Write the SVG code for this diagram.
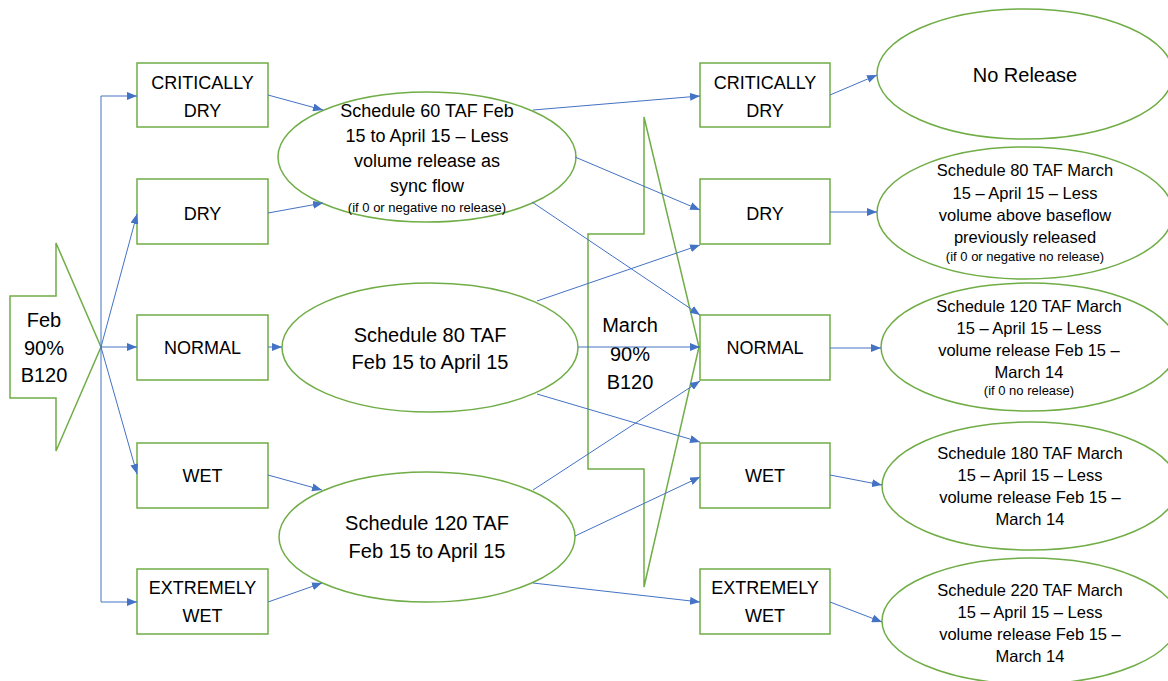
<svg xmlns="http://www.w3.org/2000/svg" width="1168" height="681" viewBox="0 0 1168 681">
<style>
.shape{fill:#ffffff;stroke:#70AD47;stroke-width:1.5}
.conn{fill:none;stroke:#4472C4;stroke-width:1}
text{font-family:"Liberation Sans",Arial,sans-serif;fill:#000000;text-anchor:middle}
.t18{font-size:18px}
.t20{font-size:20px}
.t16{font-size:16.5px}
.t13{font-size:13px}
</style>
<defs>
<marker id="arr" viewBox="0 0 10 8" refX="10" refY="4" markerWidth="10" markerHeight="8" markerUnits="userSpaceOnUse" orient="auto">
<path d="M0,0 L10,4 L0,8 z" fill="#4472C4"/>
</marker>
</defs>
<rect width="1168" height="681" fill="#ffffff"/>

<g id="feb">
<polygon class="shape" points="10,296 56,296 56,243 101,347 56,451 56,398 10,398"/>
<text class="t20" x="44" y="327">Feb</text>
<text class="t20" x="44" y="355">90%</text>
<text class="t20" x="44" y="382">B120</text>
</g>

<g id="march">
<polygon class="shape" points="588,234 644,234 644,117 699,347 644,587 644,469 588,469"/>
<text class="t20" x="630" y="332">March</text>
<text class="t20" x="630" y="361">90%</text>
<text class="t20" x="630" y="389">B120</text>
</g>

<g id="left-critically-dry">
<rect class="shape" x="137" y="63" width="131" height="64"/>
<text class="t18" x="202.5" y="88.5">CRITICALLY</text>
<text class="t18" x="202.5" y="116.5">DRY</text>
</g>
<g id="left-dry">
<rect class="shape" x="137" y="179" width="131" height="65"/>
<text class="t18" x="202.5" y="219.5">DRY</text>
</g>
<g id="left-normal">
<rect class="shape" x="137" y="315" width="131" height="65"/>
<text class="t18" x="202.5" y="353.5">NORMAL</text>
</g>
<g id="left-wet">
<rect class="shape" x="137" y="443" width="131" height="65"/>
<text class="t18" x="202.5" y="481.5">WET</text>
</g>
<g id="left-extremely-wet">
<rect class="shape" x="137" y="569" width="131" height="65"/>
<text class="t18" x="202.5" y="593.5">EXTREMELY</text>
<text class="t18" x="202.5" y="621.5">WET</text>
</g>

<g id="sched60">
<ellipse class="shape" cx="427" cy="157" rx="149" ry="65"/>
<text class="t18" x="427" y="117">Schedule 60 TAF Feb</text>
<text class="t18" x="427" y="142">15 to April 15 – Less</text>
<text class="t18" x="427" y="167">volume release as</text>
<text class="t18" x="427" y="192">sync flow</text>
<text class="t13" x="427" y="211.5">(if 0 or negative no release)</text>
</g>
<g id="sched80">
<ellipse class="shape" cx="430" cy="347.5" rx="148" ry="64.5"/>
<text class="t20" x="430" y="342">Schedule 80 TAF</text>
<text class="t20" x="430" y="369">Feb 15 to April 15</text>
</g>
<g id="sched120">
<ellipse class="shape" cx="427" cy="537" rx="148" ry="65"/>
<text class="t20" x="427" y="530">Schedule 120 TAF</text>
<text class="t20" x="427" y="558">Feb 15 to April 15</text>
</g>

<g id="right-critically-dry">
<rect class="shape" x="700" y="63" width="130" height="64"/>
<text class="t18" x="765" y="88.5">CRITICALLY</text>
<text class="t18" x="765" y="116.5">DRY</text>
</g>
<g id="right-dry">
<rect class="shape" x="700" y="179" width="130" height="65"/>
<text class="t18" x="765" y="219.5">DRY</text>
</g>
<g id="right-normal">
<rect class="shape" x="700" y="315" width="130" height="65"/>
<text class="t18" x="765" y="353.5">NORMAL</text>
</g>
<g id="right-wet">
<rect class="shape" x="700" y="443" width="130" height="65"/>
<text class="t18" x="765" y="481.5">WET</text>
</g>
<g id="right-extremely-wet">
<rect class="shape" x="700" y="569" width="130" height="65"/>
<text class="t18" x="765" y="593.5">EXTREMELY</text>
<text class="t18" x="765" y="621.5">WET</text>
</g>

<g id="no-release">
<ellipse class="shape" cx="1025" cy="74" rx="148" ry="65"/>
<text class="t20" x="1025" y="82">No Release</text>
</g>
<g id="march80">
<ellipse class="shape" cx="1025" cy="213" rx="148" ry="66"/>
<text class="t16" x="1025" y="176">Schedule 80 TAF March</text>
<text class="t16" x="1025" y="198.5">15 – April 15 – Less</text>
<text class="t16" x="1025" y="221">volume above baseflow</text>
<text class="t16" x="1025" y="243">previously released</text>
<text class="t13" x="1025" y="260.5">(if 0 or negative no release)</text>
</g>
<g id="march120">
<ellipse class="shape" cx="1029" cy="347" rx="148" ry="64"/>
<text class="t16" x="1029" y="312">Schedule 120 TAF March</text>
<text class="t16" x="1029" y="334">15 – April 15 – Less</text>
<text class="t16" x="1029" y="356">volume release Feb 15 –</text>
<text class="t16" x="1029" y="378">March 14</text>
<text class="t13" x="1029" y="394.5">(if 0 no release)</text>
</g>
<g id="march180">
<ellipse class="shape" cx="1030" cy="486" rx="148" ry="64"/>
<text class="t16" x="1030" y="459">Schedule 180 TAF March</text>
<text class="t16" x="1030" y="481">15 – April 15 – Less</text>
<text class="t16" x="1030" y="503">volume release Feb 15 –</text>
<text class="t16" x="1030" y="525">March 14</text>
</g>
<g id="march220">
<ellipse class="shape" cx="1030" cy="621" rx="148" ry="63"/>
<text class="t16" x="1030" y="596">Schedule 220 TAF March</text>
<text class="t16" x="1030" y="618">15 – April 15 – Less</text>
<text class="t16" x="1030" y="640">volume release Feb 15 –</text>
<text class="t16" x="1030" y="662">March 14</text>
</g>

<g id="connectors">
<polyline class="conn" points="101,347 101,96 137,96" marker-end="url(#arr)"/>
<polyline class="conn" points="101,347 101,602 137,602" marker-end="url(#arr)"/>
<line class="conn" x1="101" y1="347" x2="137" y2="214" marker-end="url(#arr)"/>
<line class="conn" x1="101" y1="347" x2="137" y2="347" marker-end="url(#arr)"/>
<line class="conn" x1="101" y1="347" x2="137" y2="474" marker-end="url(#arr)"/>

<line class="conn" x1="268" y1="95" x2="323" y2="110" marker-end="url(#arr)"/>
<line class="conn" x1="268" y1="213" x2="323" y2="203" marker-end="url(#arr)"/>
<line class="conn" x1="268" y1="347" x2="282" y2="347" marker-end="url(#arr)"/>
<line class="conn" x1="268" y1="475" x2="322" y2="490" marker-end="url(#arr)"/>
<line class="conn" x1="268" y1="602" x2="322" y2="583" marker-end="url(#arr)"/>

<line class="conn" x1="533" y1="110" x2="700" y2="96" marker-end="url(#arr)"/>
<line class="conn" x1="575" y1="157" x2="700" y2="210" marker-end="url(#arr)"/>
<line class="conn" x1="532" y1="202" x2="700" y2="315" marker-end="url(#arr)"/>

<line class="conn" x1="537" y1="301" x2="700" y2="245" marker-end="url(#arr)"/>
<line class="conn" x1="578" y1="347" x2="700" y2="347" marker-end="url(#arr)"/>
<line class="conn" x1="537" y1="394" x2="700" y2="442" marker-end="url(#arr)"/>

<line class="conn" x1="533" y1="490" x2="700" y2="381" marker-end="url(#arr)"/>
<line class="conn" x1="575" y1="536" x2="700" y2="477" marker-end="url(#arr)"/>
<line class="conn" x1="533" y1="583" x2="700" y2="602" marker-end="url(#arr)"/>

<line class="conn" x1="830" y1="95" x2="877" y2="75" marker-end="url(#arr)"/>
<line class="conn" x1="830" y1="212" x2="877" y2="212" marker-end="url(#arr)"/>
<line class="conn" x1="830" y1="348" x2="881" y2="348" marker-end="url(#arr)"/>
<line class="conn" x1="830" y1="475" x2="882" y2="485" marker-end="url(#arr)"/>
<line class="conn" x1="830" y1="602" x2="882" y2="622" marker-end="url(#arr)"/>
</g>
</svg>
